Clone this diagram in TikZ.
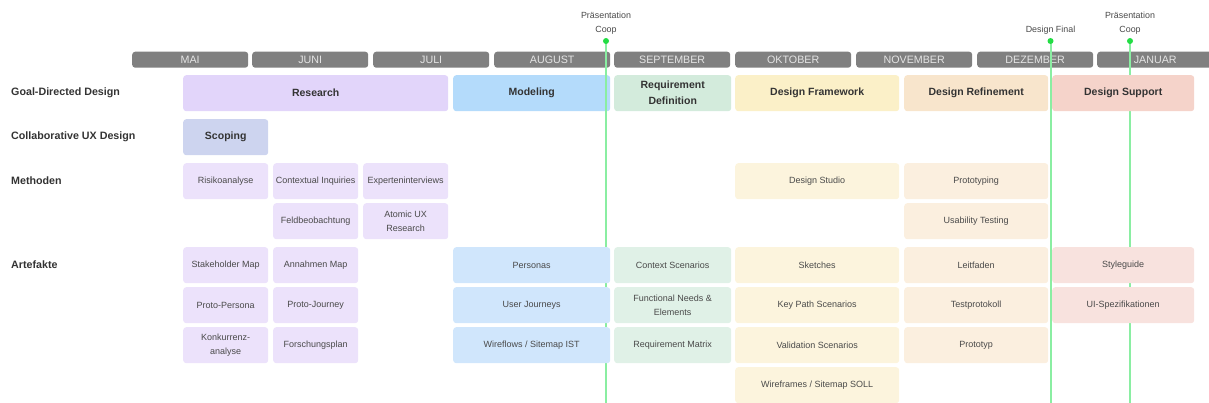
\documentclass[tikz,border=0pt]{standalone}
\usepackage{fontspec}
\setmainfont{Liberation Sans}
\usepackage{xcolor}
\usepackage{tikz}

\definecolor{monthgray}{HTML}{808080}
\definecolor{monthtext}{HTML}{E4E4E4}
\definecolor{darktext}{HTML}{333333}
\definecolor{itemtext}{HTML}{4A4A4A}
\definecolor{milegreen}{HTML}{8AEEA2}
\definecolor{miledot}{HTML}{22DD44}
\definecolor{purpledark}{HTML}{E2D5FA}
\definecolor{purplelight}{HTML}{ECE2FB}
\definecolor{scopeblue}{HTML}{CDD4EF}
\definecolor{bluedark}{HTML}{B4DBFB}
\definecolor{bluelight}{HTML}{D0E6FC}
\definecolor{greendark}{HTML}{D3EBDC}
\definecolor{greenlight}{HTML}{E0F1E7}
\definecolor{yellowdark}{HTML}{FBF0C8}
\definecolor{yellowlight}{HTML}{FCF4DD}
\definecolor{orangedark}{HTML}{F8E5CC}
\definecolor{orangelight}{HTML}{FBEFDF}
\definecolor{reddark}{HTML}{F5D3CA}
\definecolor{redlight}{HTML}{F8E2DE}

\begin{document}
\begin{tikzpicture}[x=1pt,y=-1pt]
        \tikzset{month style/.style={rectangle, rounded corners=3pt, fill=monthgray, anchor=north west, minimum width=116pt, minimum height=16pt, inner sep=0pt, text=monthtext, font=\fontsize{10.7}{12}\selectfont}}
        \tikzset{phase style/.style={rectangle, rounded corners=3pt, anchor=north west, minimum height=36pt, inner sep=0pt, text=darktext, align=center, font=\bfseries\fontsize{10.5}{16}\selectfont}}
        \tikzset{item style/.style={rectangle, rounded corners=3pt, anchor=north west, minimum width=85pt, minimum height=36pt, inner sep=0pt, text=itemtext, align=center, font=\fontsize{9}{13.5}\selectfont}}
        \tikzset{row style/.style={anchor=west, inner sep=0pt, text=darktext, font=\bfseries\fontsize{10.7}{13}\selectfont}}
        \tikzset{line style/.style={line width=2pt, color=milegreen}}
        \tikzset{mile style/.style={anchor=south, inner sep=0pt, align=center, text=itemtext, font=\fontsize{8.9}{14}\selectfont}}

        \clip (0,0) rectangle (1209,403);

        \node[month style] (mai) at (132,51.5) {MAI};
        \node[month style] (juni) at (252,51.5) {JUNI};
        \node[month style] (juli) at (373,51.5) {JULI};
        \node[month style] (aug) at (494,51.5) {AUGUST};
        \node[month style] (sep) at (614,51.5) {SEPTEMBER};
        \node[month style] (okt) at (735,51.5) {OKTOBER};
        \node[month style] (nov) at (856,51.5) {NOVEMBER};
        \node[month style] (dez) at (977,51.5) {DEZEMBER};
        \node[month style] (jan) at (1097,51.5) {JANUAR};

        \node[phase style, fill=bluedark, minimum width=157pt] (modeling) at (453,75) {Modeling};

        \coordinate (coop1) at (606,41);
        \coordinate (coop1end) at (606,403);
        \coordinate (final) at (1050.5,41);
        \coordinate (finalend) at (1050.5,403);
        \coordinate (coop2) at (1130,41);
        \coordinate (coop2end) at (1130,403);
        \draw[line style] (coop1) -- (coop1end);
        \draw[line style] (final) -- (finalend);
        \draw[line style] (coop2) -- (coop2end);
        \fill[miledot] (coop1) circle (3pt);
        \fill[miledot] (final) circle (3pt);
        \fill[miledot] (coop2) circle (3pt);
        \node[mile style] (coop1label) at (606,34.5) {Präsentation\\Coop};
        \node[mile style] (finallabel) at (1050.5,34.5) {Design Final};
        \node[mile style] (coop2label) at (1130,34.5) {Präsentation\\Coop};

        \node[row style] (goal) at (11,93) {Goal-Directed Design};
        \node[row style] (collab) at (11,137) {Collaborative UX Design};
        \node[row style] (methoden) at (11,181) {Methoden};
        \node[row style] (artefakte) at (11,265) {Artefakte};

        \node[phase style, fill=purpledark, minimum width=265pt] (research) at (183,75) {Research};
        \node[phase style, fill=greendark, minimum width=117pt] (reqdef) at (614,75) {Requirement\\Definition};
        \node[phase style, fill=yellowdark, minimum width=164pt] (framework) at (735,75) {Design Framework};
        \node[phase style, fill=orangedark, minimum width=144pt] (refinement) at (904,75) {Design Refinement};
        \node[phase style, fill=reddark, minimum width=142pt] (support) at (1052,75) {Design Support};
        \node[phase style, fill=scopeblue, minimum width=85pt] (scoping) at (183,119) {Scoping};

        % Methoden
        \node[item style, fill=purplelight] (risiko) at (183,163) {Risikoanalyse};
        \node[item style, fill=purplelight] (inquiries) at (273,163) {Contextual Inquiries};
        \node[item style, fill=purplelight] (experten) at (363,163) {Experteninterviews};
        \node[item style, fill=yellowlight, minimum width=164pt] (studio) at (735,163) {Design Studio};
        \node[item style, fill=orangelight, minimum width=144pt] (prototyping) at (904,163) {Prototyping};
        \node[item style, fill=purplelight] (feld) at (273,203) {Feldbeobachtung};
        \node[item style, fill=purplelight] (atomic) at (363,203) {Atomic UX\\Research};
        \node[item style, fill=orangelight, minimum width=144pt] (usability) at (904,203) {Usability Testing};

        % Artefakte
        \node[item style, fill=purplelight] (stakeholder) at (183,247) {Stakeholder Map};
        \node[item style, fill=purplelight] (annahmen) at (273,247) {Annahmen Map};
        \node[item style, fill=bluelight, minimum width=157pt] (personas) at (453,247) {Personas};
        \node[item style, fill=greenlight, minimum width=117pt] (context) at (614,247) {Context Scenarios};
        \node[item style, fill=yellowlight, minimum width=164pt] (sketches) at (735,247) {Sketches};
        \node[item style, fill=orangelight, minimum width=144pt] (leitfaden) at (904,247) {Leitfaden};
        \node[item style, fill=redlight, minimum width=142pt] (styleguide) at (1052,247) {Styleguide};

        \node[item style, fill=purplelight] (protopersona) at (183,287) {Proto-Persona};
        \node[item style, fill=purplelight] (protojourney) at (273,287) {Proto-Journey};
        \node[item style, fill=bluelight, minimum width=157pt] (journeys) at (453,287) {User Journeys};
        \node[item style, fill=greenlight, minimum width=117pt] (needs) at (614,287) {Functional Needs \&\\Elements};
        \node[item style, fill=yellowlight, minimum width=164pt] (keypath) at (735,287) {Key Path Scenarios};
        \node[item style, fill=orangelight, minimum width=144pt] (testprotokoll) at (904,287) {Testprotokoll};
        \node[item style, fill=redlight, minimum width=142pt] (uispec) at (1052,287) {UI-Spezifikationen};

        \node[item style, fill=purplelight] (konkurrenz) at (183,327) {Konkurrenz-\\analyse};
        \node[item style, fill=purplelight] (forschung) at (273,327) {Forschungsplan};
        \node[item style, fill=bluelight, minimum width=157pt] (wireflows) at (453,327) {Wireflows / Sitemap IST};
        \node[item style, fill=greenlight, minimum width=117pt] (matrix) at (614,327) {Requirement Matrix};
        \node[item style, fill=yellowlight, minimum width=164pt] (validation) at (735,327) {Validation Scenarios};
        \node[item style, fill=orangelight, minimum width=144pt] (prototyp) at (904,327) {Prototyp};

        \node[item style, fill=yellowlight, minimum width=164pt] (wireframes) at (735,367) {Wireframes / Sitemap SOLL};
    \end{tikzpicture}
\end{document}
